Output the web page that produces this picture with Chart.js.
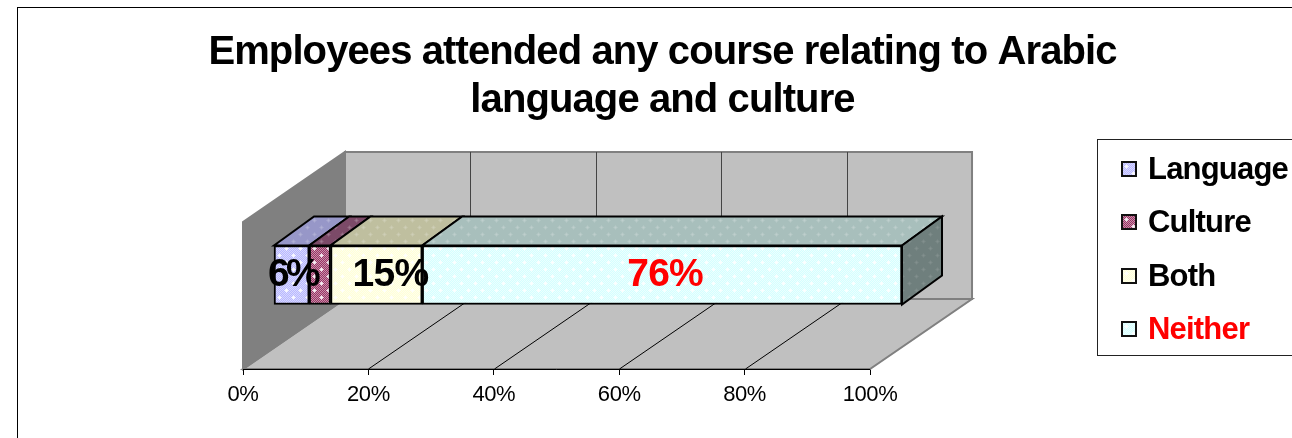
<!DOCTYPE html>
<html>
<head>
<meta charset="utf-8">
<title>Employees attended any course relating to Arabic language and culture</title>
<script src="https://cdn.jsdelivr.net/npm/chart.js@4"></script>
<style>
    html, body { margin: 0; width: 1292px; height: 438px; overflow: hidden; background: #fff; }
    #chart { position: absolute; left: 17px; top: 7px; }
    #legend {
        position: absolute; left: 1097px; top: 139px; width: 220px; height: 213px;
        border: 1px solid #222; padding-top: 2px; box-sizing: content-box;
        font: bold 31px "Liberation Sans", Arial, sans-serif; letter-spacing: -0.8px;
    }
    .legend-item { display: flex; align-items: center; height: 53.5px; padding-left: 23px; }
    .legend-box { width: 16px; height: 16px; box-sizing: border-box; border: 2px solid #111; margin-right: 11px; }
</style>
</head>
<body>
<canvas id="chart" width="1291" height="431"></canvas>
<div id="legend"></div>
<script>
const titleLines = ['Employees attended any course relating to Arabic', 'language and culture'];
const categories = ['Employees'];
const seriesNames = ['Language', 'Culture', 'Both', 'Neither'];
const seriesValues = [5.6, 3.4, 14.6, 76.4];
const seriesLabels = ['6%', '', '15%', '76%'];
const labelColors = ['#000000', '#000000', '#000000', '#ff0000'];
const tickValues = [0, 20, 40, 60, 80, 100];

// labels do not sit quite in the middle of their segments in the original
const labelShifts = [1, 0, 14, 3];
const labelSpacing = ['-3.5px', '0px', '-0.7px', '-0.7px'];

// front colour, dither colour, top face, side face
const fills = [
    ['#b8b8ff', '#d8d8ff', '#9797c8', '#70708f'],
    ['#993366', '#c890a8', '#7c4a68', '#5c3850'],
    ['#ffffd8', '#ffffec', '#bfbf9f', '#8f8f78'],
    ['#d4ffff', '#ecffff', '#a8bfbc', '#6f7f7d'],
];

// 3D box geometry, in pixels
const FLOOR_DX = 102, FLOOR_DY = 70, WALL_H = 147;
const BAR_DX = 40, BAR_DY = 29;

function makeTile(colorA, colorB, dot) {
    const tile = document.createElement('canvas');
    tile.width = tile.height = 14;
    const c = tile.getContext('2d');
    for (let y = 0; y < 14; y++) {
        for (let x = 0; x < 14; x++) {
            c.fillStyle = (x + y) % 2 ? colorA : colorB;
            c.fillRect(x, y, 1, 1);
        }
    }
    c.fillStyle = dot;
    [[3, 3], [10, 10]].forEach(([x, y]) => {
        c.fillRect(x - 2, y, 5, 1);
        c.fillRect(x - 1, y - 1, 3, 3);
        c.fillRect(x, y - 2, 1, 5);
    });
    return tile;
}

const tiles = fills.map(f => makeTile(f[0], f[1], 'rgba(255,255,255,0.6)'));
const ctx = document.getElementById('chart').getContext('2d');
const patterns = tiles.map(t => ctx.createPattern(t, 'repeat'));
const topPatterns = fills.map(f => ctx.createPattern(makeTile(f[2], f[2], 'rgba(255,255,255,0.1)'), 'repeat'));
const sidePatterns = fills.map(f => ctx.createPattern(makeTile(f[3], f[3], 'rgba(255,255,255,0.05)'), 'repeat'));

function poly(c, pts, fill, stroke, width) {
    c.beginPath();
    pts.forEach(([x, y], i) => (i ? c.lineTo(x, y) : c.moveTo(x, y)));
    c.closePath();
    c.fillStyle = fill;
    c.fill();
    if (stroke) {
        c.strokeStyle = stroke;
        c.lineWidth = width;
        c.stroke();
    }
}

const boxPlugin = {
    id: 'box3d',
    beforeDraw(chart) {
        const c = chart.ctx;
        c.save();
        c.strokeStyle = '#000';
        c.lineWidth = 1;
        c.strokeRect(0.5, 0.5, chart.width + 10, chart.height + 10);
        c.restore();
        c.letterSpacing = '-0.9px'; // title is drawn next
    },
    beforeDatasetsDraw(chart) {
        const c = chart.ctx;
        const x = chart.scales.x;
        const bottom = chart.chartArea.bottom;
        const x0 = x.getPixelForValue(0), x1 = x.getPixelForValue(100);
        const back = bottom - FLOOR_DY;
        const top = back - WALL_H;

        c.save();
        c.letterSpacing = '0px';
        // back wall, floor, side wall
        poly(c, [[x0 + FLOOR_DX, top], [x1 + FLOOR_DX, top], [x1 + FLOOR_DX, back], [x0 + FLOOR_DX, back]], '#c0c0c0', '#808080', 2);
        poly(c, [[x0, bottom], [x1, bottom], [x1 + FLOOR_DX, back], [x0 + FLOOR_DX, back]], '#c0c0c0', '#808080', 2);
        poly(c, [[x0, bottom], [x0, bottom - WALL_H], [x0 + FLOOR_DX, top], [x0 + FLOOR_DX, back]], '#808080', '#808080', 2);

        // grid lines, on the floor and up the back wall
        c.lineWidth = 1;
        tickValues.slice(1, -1).forEach(v => {
            const px = Math.round(x.getPixelForValue(v)) + 0.5;
            c.strokeStyle = '#000';
            c.beginPath();
            c.moveTo(px, bottom);
            c.lineTo(px + FLOOR_DX, back);
            c.stroke();
            c.strokeStyle = '#444';
            c.beginPath();
            c.moveTo(px + FLOOR_DX, back);
            c.lineTo(px + FLOOR_DX, top);
            c.stroke();
        });

        // axis line along the front of the floor
        c.strokeStyle = '#000';
        c.beginPath();
        c.moveTo(x0, bottom + 0.5);
        c.lineTo(x1, bottom + 0.5);
        c.stroke();

        // top faces of the bar and the end of the last segment
        seriesValues.forEach((v, i) => {
            const bar = chart.getDatasetMeta(i).data[0];
            const t = bar.y - bar.height / 2;
            const b = bar.y + bar.height / 2;
            poly(c, [[bar.base, t], [bar.x, t], [bar.x + BAR_DX, t - BAR_DY], [bar.base + BAR_DX, t - BAR_DY]], topPatterns[i], '#000', 2);
            if (i === seriesValues.length - 1) {
                poly(c, [[bar.x, t], [bar.x + BAR_DX, t - BAR_DY], [bar.x + BAR_DX, b - BAR_DY], [bar.x, b]], sidePatterns[i], '#000', 2);
            }
        });
        c.restore();
    },
    afterDatasetsDraw(chart) {
        const c = chart.ctx;
        c.save();
        c.font = 'bold 39px "Liberation Sans", Arial, sans-serif';
        c.textAlign = 'center';
        c.textBaseline = 'middle';
        seriesLabels.forEach((text, i) => {
            const bar = chart.getDatasetMeta(i).data[0];
            c.letterSpacing = labelSpacing[i];
            c.fillStyle = labelColors[i];
            c.fillText(text, (bar.base + bar.x) / 2 + labelShifts[i], bar.y);
        });
        c.restore();
        c.letterSpacing = '-0.4px'; // tick labels are drawn after the datasets
    }
};

new Chart(ctx, {
    type: 'bar',
    data: {
        labels: categories,
        datasets: seriesNames.map((name, i) => ({
            label: name,
            data: [seriesValues[i]],
            xAxisID: 'xBar',
            backgroundColor: patterns[i],
            borderColor: '#000',
            borderWidth: 2,
            borderSkipped: false,
            barThickness: 59,
        }))
    },
    options: {
        indexAxis: 'y',
        responsive: false,
        animation: false,
        events: [],
        layout: { padding: 0 },
        plugins: {
            legend: { display: false },
            tooltip: { enabled: false },
            title: {
                display: true,
                text: titleLines,
                color: '#000',
                font: { family: '"Liberation Sans", Arial, sans-serif', size: 40, weight: 'bold', lineHeight: 48 / 40 },
                padding: { top: 22, bottom: 56 }
            }
        },
        scales: {
            x: {
                type: 'linear',
                min: 0,
                max: 169.85,
                afterFit: s => { s.height = 69; },
                border: { display: false },
                grid: { drawOnChartArea: false, tickLength: 6, color: '#000' },
                ticks: {
                    z: 1,
                    stepSize: 20,
                    autoSkip: false,
                    includeBounds: false,
                    maxRotation: 0,
                    padding: 7,
                    color: '#000',
                    font: { family: '"Liberation Sans", Arial, sans-serif', size: 22 },
                    callback: v => (tickValues.includes(v) ? v + '%' : null)
                }
            },
            // bars sit part way into the depth of the box, so they get their own offset scale
            xBar: { type: 'linear', display: false, stacked: true, min: -4.94, max: 164.65 },
            y: {
                stacked: true,
                afterFit: s => { s.width = 226; },
                border: { display: false },
                grid: { display: false },
                ticks: { display: false }
            }
        }
    },
    plugins: [boxPlugin]
});

// Legend is plain HTML
const legend = document.getElementById('legend');
seriesNames.forEach((name, i) => {
    const item = document.createElement('div');
    item.className = 'legend-item';
    item.innerHTML = `<span class="legend-box" style="background:url(${tiles[i].toDataURL()})"></span>
        <span style="color:${labelColors[i]}">${name}</span>`;
    legend.appendChild(item);
});
</script>
</body>
</html>
